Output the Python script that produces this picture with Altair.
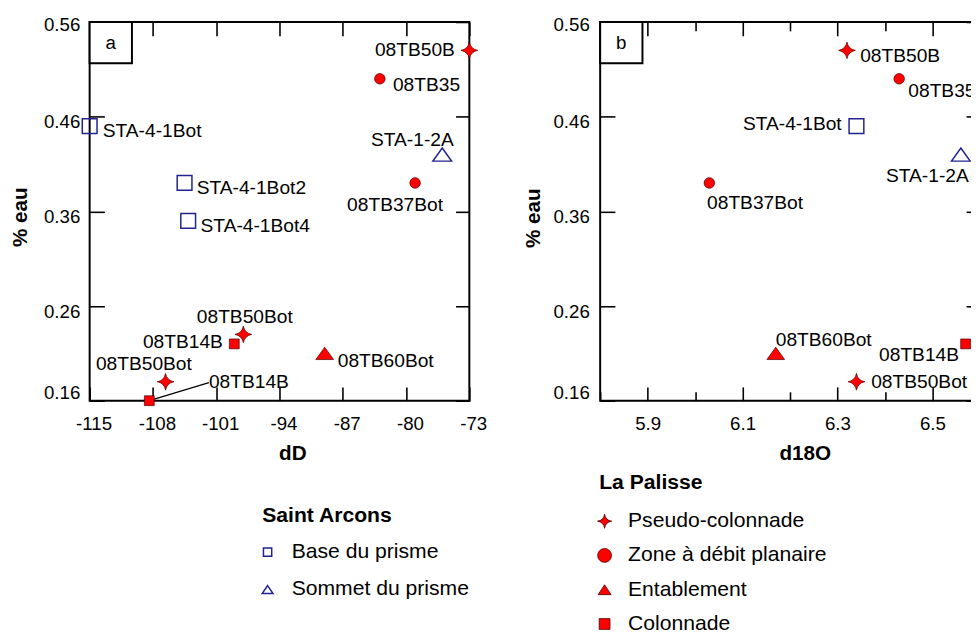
import altair as alt
import pandas as pd

FONT = "Liberation Sans"
RED = "#ff0000"
RED_EDGE = "#4a0000"
NAVY = "#22228e"

# ---- categories -------------------------------------------------------
sa_cats = ["Base du prisme", "Sommet du prisme"]                                   # Saint Arcons
lp_cats = ["Pseudo-colonnade", "Zone à débit planaire", "Entablement", "Colonnade"]  # La Palisse

# ---- panel a : dD vs % eau ------------------------------------------
a_names = ["08TB50B", "08TB35", "STA-4-1Bot", "STA-1-2A", "08TB37Bot", "STA-4-1Bot2",
           "STA-4-1Bot4", "08TB50Bot", "08TB14B", "08TB60Bot", "08TB50Bot", "08TB14B"]
a_cat = ["Pseudo-colonnade", "Zone à débit planaire", "Base du prisme", "Sommet du prisme",
         "Zone à débit planaire", "Base du prisme", "Base du prisme", "Pseudo-colonnade",
         "Colonnade", "Entablement", "Pseudo-colonnade", "Colonnade"]
a_dD = [-73.0, -82.9, -115.0, -76.0, -79.0, -104.5, -104.1, -98.0, -99.0, -89.0, -106.6, -108.4]
a_eau = [0.53, 0.50, 0.45, 0.42, 0.39, 0.39, 0.35, 0.23, 0.22, 0.21, 0.18, 0.16]

# ---- panel b : d18O vs % eau ------------------------------------------
b_names = ["08TB50B", "08TB35", "STA-4-1Bot", "STA-1-2A", "08TB37Bot", "08TB60Bot", "08TB14B", "08TB50Bot"]
b_cat = ["Pseudo-colonnade", "Zone à débit planaire", "Base du prisme", "Sommet du prisme",
         "Zone à débit planaire", "Entablement", "Colonnade", "Pseudo-colonnade"]
b_d18O = [6.32, 6.43, 6.34, 6.56, 6.03, 6.17, 6.57, 6.34]
b_eau = [0.53, 0.50, 0.45, 0.42, 0.39, 0.21, 0.22, 0.18]

# ---- tick values -------------------------------------------------------
eau_ticks = [0.16, 0.26, 0.36, 0.46, 0.56]
dD_ticks = [-115, -108, -101, -94, -87, -80, -73]
d18O_labels = [5.9, 6.1, 6.3, 6.5]
d18O_ticks = [5.8, 5.9, 6.0, 6.1, 6.2, 6.3, 6.4, 6.5, 6.6]

# ---- label placement (pixel offsets, layout only) ----------------------
a_lab_dx = [-14.7, 13.3, 13.3, 11.7, 28.4, 12.3, 12.6, 1.5, -11.6, 13.3, 26.7, 60.6]
a_lab_dy = [0, 6, 5, -14.3, 22.3, 5, 5, -18, -1.6, 7.6, -18, -19]
a_lab_al = ["right", "left", "left", "right", "right", "left", "left", "center", "right", "left", "right", "left"]
a_leader = [0, 0, 0, 0, 0, 0, 0, 0, 0, 0, 0, 1]

b_lab_dx = [13.4, 9.3, -15, 8, -2.3, 0, -6.7, 15]
b_lab_dy = [5.7, 12.4, -2.4, 22.4, 20, -13.7, 11.7, 0.4]
b_lab_al = ["left", "left", "right", "right", "left", "left", "right", "left"]
b_leader = [0] * 8


# ---- symbol paths (drawn with size 400 -> 1 unit = 10 px) ---------------
def star(s, c=0.16):
    k = c * s
    return (f"M0,{-s}Q{k},{-k},{s},0Q{k},{k},0,{s}Q{-k},{k},{-s},0Q{-k},{-k},0,{-s}Z")


def circ(r):
    return f"M{-r},0A{r},{r},0,1,1,{r},0A{r},{r},0,1,1,{-r},0Z"


def sq(h):
    return f"M{-h},{-h}L{h},{-h}L{h},{h}L{-h},{h}Z"


def tri(w, h):
    return f"M0,{-h}L{w},{h}L{-w},{h}Z"


SYM = 400
sa_shapes = [sq(0.75), tri(0.95, 0.67)]
lp_shapes = [star(0.85), circ(0.535), tri(0.9, 0.63), sq(0.5)]
sa_leg_shapes = [sq(0.42), tri(0.55, 0.4)]
lp_leg_shapes = [star(0.72, 0.12), circ(0.7), tri(0.66, 0.5), sq(0.55)]

W, H = 386, 385


def make_df(names, cats, xs, ys, dx, dy, al, leader):
    return pd.DataFrame({"name": names, "cat": cats, "x": xs, "y": ys,
                         "ldx": dx, "ldy": dy, "al": al, "leader": leader})


def inward_axis(orient, offset, values, size):
    return alt.Axis(orient=orient, offset=offset, values=values, labels=False, domain=False,
                    grid=False, title=None, ticks=True, tickSize=size, tickWidth=1.6,
                    tickColor="black")


def sym_enc(cats, shapes, fills, strokes):
    return dict(
        shape=alt.Shape("cat:N", scale=alt.Scale(domain=cats, range=shapes), legend=None),
        fill=alt.Fill("cat:N", scale=alt.Scale(domain=cats, range=fills), legend=None),
        stroke=alt.Stroke("cat:N", scale=alt.Scale(domain=cats, range=strokes), legend=None),
    )


def legend_layers(title, cats, shapes, fills, strokes, sw, x0, title_y, y0, y1, label_x):
    ldf = pd.DataFrame({"cat": cats})
    yenc = alt.Y("cat:N", axis=None,
                 scale=alt.Scale(type="point", domain=cats, range=[y0, y1], padding=0))
    t = alt.Chart(alt.Data(values=[{"t": title}])).mark_text(
        font=FONT, fontSize=21.5, fontWeight="bold", color="black", align="left", baseline="middle"
    ).encode(x=alt.value(x0), y=alt.value(title_y), text="t:N")
    s = alt.Chart(ldf).mark_point(opacity=1, size=SYM, strokeWidth=sw).encode(
        x=alt.value(x0 + 5.5), y=yenc, **sym_enc(cats, shapes, fills, strokes))
    lab = alt.Chart(ldf).mark_text(
        font=FONT, fontSize=21.5, color="black", align="left", baseline="middle"
    ).encode(x=alt.value(label_x), y=yenc, text="cat:N")
    return [t, s, lab]


def panel(df, letter, xtitle, xdomain, xlabel_vals, xtick_vals, xtick_size, xlab_off,
          ylab_pad, ytitle_pad, title_x, title_y, leg):
    xs = alt.Scale(domain=xdomain, nice=False, zero=False)
    ys = alt.Scale(domain=[0.16, 0.56], nice=False, zero=False)
    base = alt.Chart(df)

    main_x = alt.Axis(orient="bottom", values=xlabel_vals, title=xtitle, ticks=False, tickSize=0,
                      domain=False, grid=False, labelPadding=14, labelFlush=False,
                      labelOffset=xlab_off, labelExpr="'' + datum.value", titlePadding=10,
                      titleX=title_x)
    main_y = alt.Axis(orient="left", values=eau_ticks, title="% eau", ticks=False, tickSize=0,
                      domain=False, grid=False, labelPadding=ylab_pad, labelFlush=True,
                      labelExpr="'' + datum.value",
                      labelOffset={"condition": [{"test": "datum.value > 0.5", "value": -6.5},
                                                 {"test": "datum.value < 0.2", "value": 2}],
                                   "value": 5.5},
                      titlePadding=ytitle_pad, titleY=title_y)

    layers = []
    if df["leader"].sum() > 0:
        layers.append(base.transform_filter("datum.leader == 1").mark_rule(
            color="black", strokeWidth=1.3, x2Offset=60.6, y2Offset=-18.4
        ).encode(x=alt.X("x:Q", scale=xs, axis=None), x2="x",
                 y=alt.Y("y:Q", scale=ys, axis=None), y2="y"))

    sa = base.transform_filter(alt.FieldOneOfPredicate(field="cat", oneOf=sa_cats)).mark_point(
        opacity=1, size=SYM, strokeWidth=1.5
    ).encode(
        x=alt.X("x:Q", scale=xs, axis=main_x),
        y=alt.Y("y:Q", scale=ys, axis=main_y),
        **sym_enc(sa_cats, sa_shapes, ["transparent"] * 2, [NAVY] * 2),
    )

    lp = base.transform_filter(alt.FieldOneOfPredicate(field="cat", oneOf=lp_cats)).mark_point(
        opacity=1, size=SYM, strokeWidth=0.7
    ).encode(
        x=alt.X("x:Q", scale=xs, axis=inward_axis("top", -H, xtick_vals, xtick_size)),
        y=alt.Y("y:Q", scale=ys, axis=inward_axis("right", -W, eau_ticks, 15)),
        **sym_enc(lp_cats, lp_shapes, [RED] * 4, [RED_EDGE] * 4),
    )

    labels = base.mark_text(
        font=FONT, fontSize=19.5, color="black", baseline="middle",
        align=alt.ExprRef("datum.al"), dx=alt.ExprRef("datum.ldx"), dy=alt.ExprRef("datum.ldy")
    ).encode(
        x=alt.X("x:Q", scale=xs, axis=inward_axis("bottom", -H, xtick_vals, xtick_size)),
        y=alt.Y("y:Q", scale=ys, axis=inward_axis("left", -W, eau_ticks, 14)),
        text="name:N",
    )

    box_data = alt.Data(values=[{"t": letter}])
    box = alt.Chart(box_data).mark_rect(fill="white", stroke="black", strokeWidth=2).encode(
        x=alt.value(0), x2=alt.value(43), y=alt.value(0), y2=alt.value(42))
    box_txt = alt.Chart(box_data).mark_text(font=FONT, fontSize=19, color="black",
                                            baseline="middle", align="center").encode(
        x=alt.value(21.5), y=alt.value(21), text="t:N")

    layers += [sa, lp, labels, box, box_txt] + leg

    return alt.layer(*layers).resolve_scale(
        x="independent", y="independent",
        shape="independent", fill="independent", stroke="independent"
    ).resolve_axis(x="independent", y="independent").properties(width=W, height=H)


df_a = make_df(a_names, a_cat, a_dD, a_eau, a_lab_dx, a_lab_dy, a_lab_al, a_leader)
df_b = make_df(b_names, b_cat, b_d18O, b_eau, b_lab_dx, b_lab_dy, b_lab_al, b_leader)

major_minor = {"condition": {"test": "round(datum.value * 10) % 2 == 1", "value": 14}, "value": 9}

leg_sa = legend_layers("Saint Arcons", sa_cats, sa_leg_shapes, ["transparent"] * 2, [NAVY] * 2, 1.5,
                       175.4, 502, 539, 577, 205.4)
leg_lp = legend_layers("La Palisse", lp_cats, lp_leg_shapes, [RED] * 4, [RED_EDGE] * 4, 0.8,
                       -1, 468.5, 507.5, 612, 28.3)

pa = panel(df_a, "a", "dD", [-115, -73], dD_ticks, dD_ticks, 14, 4, 10, 13, 206, 198, leg_sa)
pb = panel(df_b, "b", "d18O", [5.8, 6.6], d18O_labels, d18O_ticks, major_minor, 0, 11, 10, 208, 199, leg_lp)

chart = alt.hconcat(pa, pb, spacing=34).resolve_scale(
    shape="independent", fill="independent", stroke="independent"
).properties(
    padding={"left": 1, "top": 1, "right": -11, "bottom": -4}
).configure(font=FONT).configure_view(
    stroke="black", strokeWidth=2
).configure_axis(
    labelFont=FONT, labelFontSize=19, labelColor="black",
    titleFont=FONT, titleFontSize=21, titleFontWeight="bold", titleColor="black",
)

chart.save("out.html", embed_options={"renderer": "svg", "actions": False})
